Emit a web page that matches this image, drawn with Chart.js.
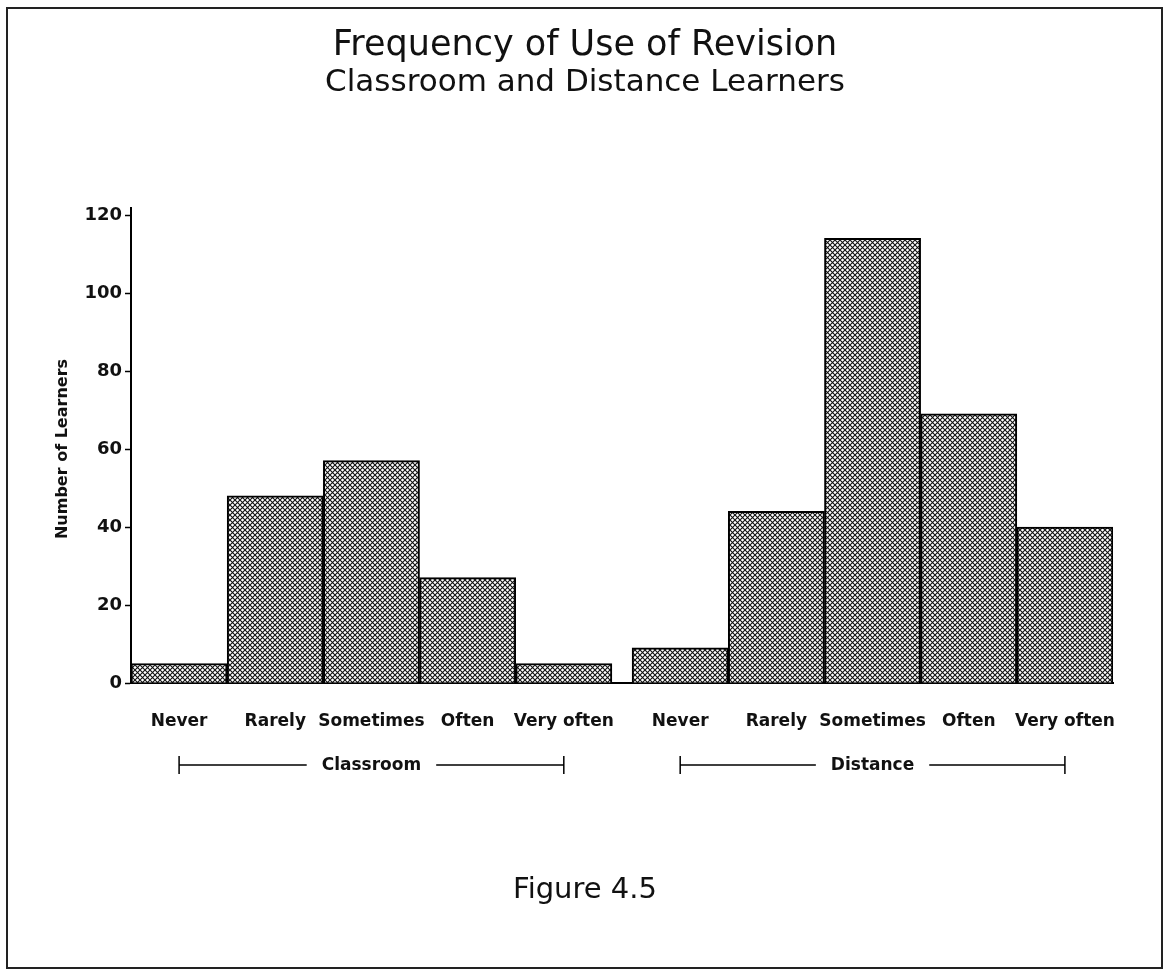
<!DOCTYPE html>
<html>
<head>
<meta charset="utf-8">
<title>Frequency of Use of Revision</title>
<script src="https://cdn.jsdelivr.net/npm/chart.js@4.4.1/dist/chart.umd.min.js"></script>
<style>
  html, body { margin: 0; padding: 0; background: #fff; }
  #wrap { width: 1168px; height: 974px; }
</style>
</head>
<body>
<div id="wrap"><canvas id="revisionChart" width="1168" height="974"></canvas></div>
<script>
// data
const groups = ["Classroom", "Distance"];
const frequencies = ["Never", "Rarely", "Sometimes", "Often", "Very often"];
const classroomCounts = [5, 48, 57, 27, 5];
const distanceCounts = [9, 44, 114, 69, 40];
const yTicks = [0, 20, 40, 60, 80, 100, 120];

const groupGap = 0.21; // space between the two groups, in bar widths

// bar centres on a linear axis: 0.5 .. 4.5, then 5.5+gap .. 9.5+gap
const positions = [];
const barLabels = [];
const counts = [];
groups.forEach((g, gi) => {
  frequencies.forEach((f, i) => {
    positions.push(gi * (frequencies.length + groupGap) + i + 0.5);
    barLabels.push(f);
  });
});
counts.push(...classroomCounts, ...distanceCounts);

// cross-hatch fill
function hatch() {
  const s = 5;
  const c = document.createElement("canvas");
  c.width = c.height = s;
  const g = c.getContext("2d");
  g.fillStyle = "#fff";
  g.fillRect(0, 0, s, s);
  g.strokeStyle = "#111";
  g.lineWidth = 1.1;
  g.beginPath();
  g.moveTo(-1, -1); g.lineTo(s + 1, s + 1);
  g.moveTo(-1, s + 1); g.lineTo(s + 1, -1);
  g.stroke();
  return g.createPattern(c, "repeat");
}

const FONT = '"DejaVu Sans", Verdana, sans-serif';

// titles, group brackets, figure caption, frame
const figureText = {
  id: "figureText",
  afterDraw(chart) {
    const ctx = chart.ctx;
    const x = chart.scales.x;
    const area = chart.chartArea;
    ctx.save();
    ctx.strokeStyle = "#222";
    ctx.lineWidth = 2;
    ctx.strokeRect(7, 8, 1155, 960);

    // y axis runs a little past the top tick
    ctx.strokeStyle = "#000";
    ctx.beginPath();
    ctx.moveTo(area.left, area.top);
    ctx.lineTo(area.left, area.top - 8);
    ctx.stroke();

    ctx.fillStyle = "#111";
    ctx.textAlign = "center";
    ctx.textBaseline = "middle";
    ctx.font = "35px " + FONT;
    ctx.fillText("Frequency of Use of Revision", 585, 46);
    ctx.font = "31px " + FONT;
    ctx.fillText("Classroom and Distance Learners", 585, 83);

    // brackets under each group
    const by = 765;
    ctx.font = "bold 17px " + FONT;
    ctx.lineWidth = 1.5;
    groups.forEach((g, gi) => {
      const a = x.getPixelForValue(positions[gi * 5]);
      const b = x.getPixelForValue(positions[gi * 5 + 4]);
      const mid = (a + b) / 2;
      const half = ctx.measureText(g).width / 2 + 15;
      ctx.beginPath();
      ctx.moveTo(a, by); ctx.lineTo(mid - half, by);
      ctx.moveTo(mid + half, by); ctx.lineTo(b, by);
      ctx.moveTo(a, by - 9); ctx.lineTo(a, by + 9);
      ctx.moveTo(b, by - 9); ctx.lineTo(b, by + 9);
      ctx.stroke();
      ctx.fillText(g, mid, by + 1);
    });

    ctx.font = "29px " + FONT;
    ctx.fillText("Figure 4.5", 585, 890);
    ctx.restore();
  }
};

const ctx = document.getElementById("revisionChart").getContext("2d");
const revisionChart = new Chart(ctx, {
  type: "bar",
  data: {
    datasets: [
      {
        label: "Number of Learners",
        data: counts.map((c, i) => ({ x: positions[i], y: c })),
        backgroundColor: hatch(),
        borderColor: "#000",
        borderWidth: 2,
        barPercentage: 1,
        categoryPercentage: 1,
      },
    ],
  },
  options: {
    responsive: false,
    animation: false,
    layout: {
      padding: { top: 215, right: 55, bottom: 0, left: 40 },
    },
    plugins: {
      legend: { display: false },
      tooltip: { enabled: false },
    },
    scales: {
      x: {
        type: "linear",
        offset: false,
        min: 0,
        max: frequencies.length * 2 + groupGap,
        afterBuildTicks: (axis) => {
          axis.ticks = positions.map((v) => ({ value: v }));
        },
        afterFit: (axis) => {
          axis.height = 974 - 683;
        },
        grid: { display: false, offset: false },
        border: { display: true, color: "#000", width: 2 },
        ticks: {
          autoSkip: false,
          maxRotation: 0,
          padding: 20,
          color: "#111",
          font: { family: FONT, size: 17, weight: "bold" },
          callback: (value, index) => barLabels[index],
        },
      },
      y: {
        min: 0,
        max: 120,
        afterBuildTicks: (axis) => {
          axis.ticks = yTicks.map((v) => ({ value: v }));
        },
        afterFit: (axis) => {
          axis.width = 131 - 40;
        },
        grid: {
          drawOnChartArea: false,
          drawTicks: true,
          tickLength: 6,
          tickColor: "#000",
          tickWidth: 1.5,
        },
        border: { display: true, color: "#000", width: 2 },
        ticks: {
          padding: 3,
          color: "#111",
          font: { family: FONT, size: 18, weight: "bold" },
        },
        title: {
          display: true,
          text: "Number of Learners",
          color: "#111",
          padding: { top: 13, bottom: 0 },
          font: { family: FONT, size: 16, weight: "bold" },
        },
      },
    },
  },
  plugins: [figureText],
});
</script>
</body>
</html>
